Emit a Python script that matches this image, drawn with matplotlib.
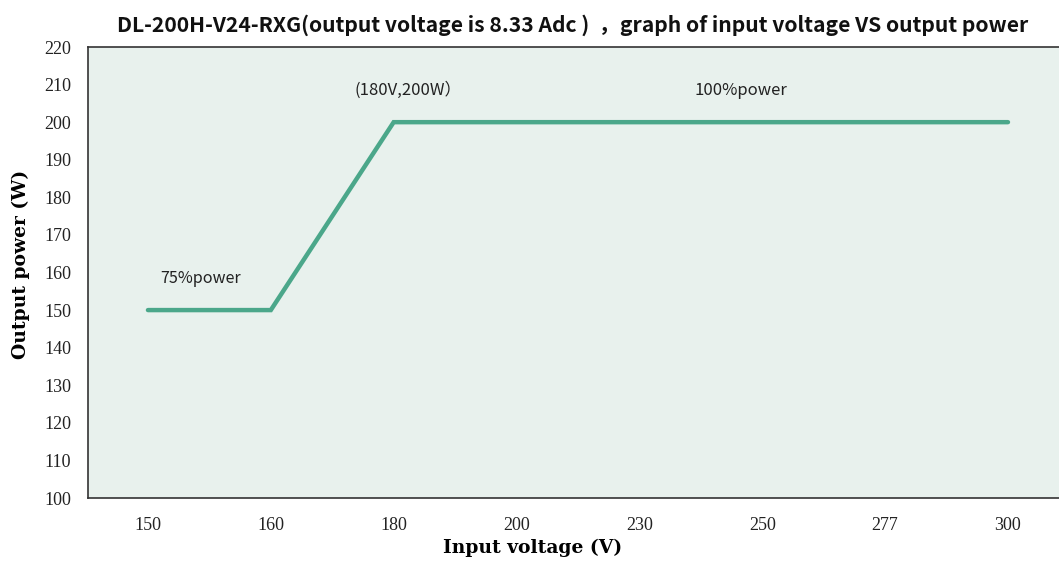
import matplotlib
matplotlib.use("Agg")
import matplotlib.pyplot as plt

# categorical x axis (equally spaced)
voltages = ["150", "160", "180", "200", "230", "250", "277", "300"]
power = [150, 150, 200, 200, 200, 200, 200, 200]
y_ticks = list(range(100, 221, 10))

title = "DL-200H-V24-RXG(output voltage is 8.33 Adc )  \uff0cgraph of input voltage VS output power"

fig = plt.figure(figsize=(10.59, 5.61), dpi=100)
W, H = 1059, 561
ax = fig.add_axes([88 / W, (H - 498) / H, (1064 - 88) / W, (498 - 47) / H])
ax.set_facecolor("#e8f1ed")

x = list(range(len(voltages)))
ax.plot(x, power, color="#4ba78a", linewidth=3.2, solid_capstyle="round", solid_joinstyle="miter")

ax.set_xlim(-0.488, 7.456)
ax.set_ylim(100, 220)
ax.set_xticks(x)
ax.set_xticklabels(voltages)
ax.set_yticks(y_ticks)
ax.tick_params(length=0, labelsize=13, colors="#222222")
ax.tick_params(axis="x", pad=14)
ax.tick_params(axis="y", pad=12)
for lab in ax.get_xticklabels() + ax.get_yticklabels():
    lab.set_family("Liberation Serif")

for s in ["top", "left", "bottom"]:
    ax.spines[s].set_color("#333333")
    ax.spines[s].set_linewidth(1.2)
ax.spines["right"].set_visible(False)

serif = ["DejaVu Serif", "Noto Sans CJK SC"]
ax.set_xlabel("Input voltage (V)", family=serif, fontweight="bold", fontsize=13.5)
ax.set_ylabel("Output power (W)", family=serif, fontweight="bold", fontsize=13.5)
ax.xaxis.set_label_coords(0.456, -0.09)
ax.yaxis.set_label_coords(-0.059, 0.517)

sans = ["Noto Sans CJK SC", "DejaVu Sans"]
ax.text(0.1, 158.3, "75%power", family=sans, fontsize=11.6, va="center", color="#222222")
ax.text(1.68, 208.5, "(180V,200W\uff09", family=sans, fontsize=12, va="center", color="#222222")
ax.text(4.45, 208.5, "100%power", family=sans, fontsize=12, va="center", color="#222222")

fig.text(573 / W, 1 - 25 / H, title, family=sans, fontweight="bold", fontsize=15.2,
         ha="center", va="center", color="#111111")

fig.savefig("out.png", dpi=100)
